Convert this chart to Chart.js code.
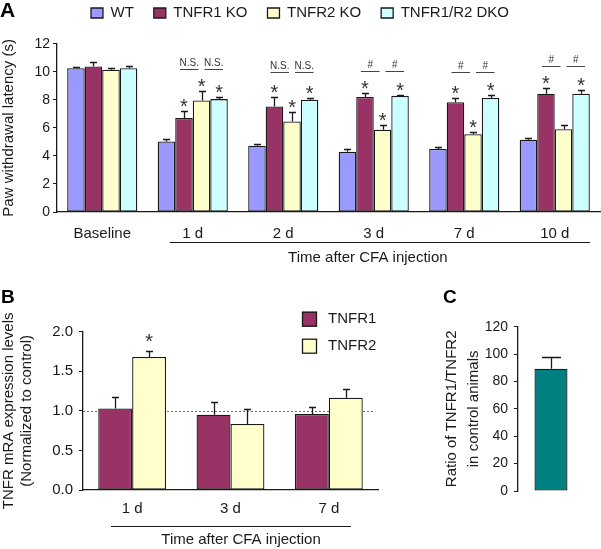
<!DOCTYPE html>
<html>
<head>
<meta charset="utf-8">
<script src="https://cdn.jsdelivr.net/npm/chart.js@4.4.0/dist/chart.umd.min.js"></script>
<style>
 body { margin: 0; background: #fff; }
 #wrap { position: relative; width: 601px; height: 549px; overflow: hidden; background: #fff; }
 canvas { position: absolute; }
</style>
</head>
<body>
<div id="wrap">
 <canvas id="chartA" width="601" height="270" style="left:0;top:0"></canvas>
 <canvas id="chartB" width="400" height="279" style="left:0;top:270px"></canvas>
 <canvas id="chartC" width="201" height="279" style="left:400px;top:270px"></canvas>
</div>
<script>
const FONT = '"Liberation Sans", Arial, sans-serif';
const INK = '#1a1a1a';

// panel A: paw withdrawal latency
const timesA = ['Baseline', '1 d', '2 d', '3 d', '7 d', '10 d'];
const namesA = ['WT', 'TNFR1 KO', 'TNFR2 KO', 'TNFR1/R2 DKO'];
const latWT  = [10.25, 5.03, 4.72, 4.30, 4.50, 5.15];
const latR1  = [10.38, 6.70, 7.53, 8.20, 7.82, 8.43];
const latR2  = [10.15, 7.95, 6.45, 5.86, 5.55, 5.90];
const latDKO = [10.25, 8.05, 8.00, 8.28, 8.13, 8.43];
const errWT  = [0.10, 0.15, 0.15, 0.18, 0.15, 0.12];
const errR1  = [0.35, 0.53, 0.65, 0.30, 0.30, 0.40];
const errR2  = [0.13, 0.70, 0.65, 0.35, 0.15, 0.30];
const errDKO = [0.18, 0.15, 0.12, 0.07, 0.18, 0.28];
const starWT  = [0, 0, 0, 0, 0, 0];
const starR1  = [0, 1, 1, 1, 1, 1];
const starR2  = [0, 1, 1, 1, 1, 0];
const starDKO = [0, 1, 1, 1, 1, 1];
const pairMarks = ['', 'N.S.', 'N.S.', '#', '#', '#'];
const ticksA = [0, 2, 4, 6, 8, 10, 12];

// panel B: mRNA levels
const timesB = ['1 d', '3 d', '7 d'];
const mrnaR1 = [1.03, 0.95, 0.96];
const mrnaR2 = [1.68, 0.835, 1.165];
const mrnaErrR1 = [0.14, 0.16, 0.09];
const mrnaErrR2 = [0.08, 0.19, 0.11];
const mrnaStarR1 = [0, 0, 0];
const mrnaStarR2 = [1, 0, 0];
const controlLevel = 1.0;

// panel C: ratio
const ratioLabels = [''];
const ratioValue = [89.3];
const ratioErr = [8.3];

const crisp = v => Math.round(v) + 0.5;

const errorBars = {
 id: 'errorBars',
 afterDatasetsDraw(chart, args, o) {
 const { ctx } = chart;
 const y = chart.scales.y;
 ctx.save();
 chart.data.datasets.forEach((ds, di) => {
 if (!ds.errors) return;
 chart.getDatasetMeta(di).data.forEach((bar, i) => {
 const top = y.getPixelForValue(ds.data[i] + ds.errors[i]);
 const x = crisp(bar.x);
 ctx.strokeStyle = INK;
 ctx.lineWidth = 1.3;
 ctx.beginPath();
 ctx.moveTo(x, bar.y);
 ctx.lineTo(x, crisp(top));
 ctx.moveTo(x - o.cap / 2, crisp(top));
 ctx.lineTo(x + o.cap / 2, crisp(top));
 ctx.stroke();
 if (ds.stars && ds.stars[i]) {
 ctx.fillStyle = '#333';
 ctx.font = `20px ${FONT}`;
 ctx.textAlign = 'center';
 ctx.textBaseline = 'alphabetic';
 ctx.fillText('*', bar.x, top + o.starShift);
 }
 });
 });
 ctx.restore();
 }
};

const pairBrackets = {
 id: 'pairBrackets',
 afterDatasetsDraw(chart) {
 const { ctx } = chart;
 const y = chart.scales.y;
 const metas = chart.data.datasets.map((ds, i) => chart.getDatasetMeta(i));
 ctx.save();
 pairMarks.forEach((txt, i) => {
 if (!txt) return;
 const bars = metas.map(m => m.data[i]);
 const tops = chart.data.datasets.map(ds => y.getPixelForValue(ds.data[i] + ds.errors[i]));
 const ly = crisp(Math.min(Math.min(...tops) - 22, y.getPixelForValue(10)));
 const segs = [[bars[1].x - 4, bars[2].x - 3], [bars[2].x + 3, bars[3].x + 4]];
 segs.forEach(([a, b]) => {
 ctx.strokeStyle = '#444';
 ctx.lineWidth = 1;
 ctx.beginPath();
 ctx.moveTo(a, ly);
 ctx.lineTo(b, ly);
 ctx.stroke();
 ctx.fillStyle = '#333';
 ctx.font = `10px ${FONT}`;
 ctx.textAlign = 'center';
 ctx.textBaseline = 'alphabetic';
 ctx.fillText(txt, (a + b) / 2, ly - 4);
 });
 });
 ctx.restore();
 }
};

const timeNote = {
 id: 'timeNote',
 afterDraw(chart, args, o) {
 const { ctx, chartArea } = chart;
 const x = chart.scales.x;
 const cw = x.width / x.ticks.length;
 const left = x.getPixelForValue(o.first) - o.padL * cw;
 const right = x.getPixelForValue(o.last) + o.padR * cw;
 const ly = crisp(chartArea.bottom + o.lineGap);
 ctx.save();
 ctx.strokeStyle = INK;
 ctx.lineWidth = 1;
 ctx.beginPath();
 ctx.moveTo(left, ly);
 ctx.lineTo(right, ly);
 ctx.stroke();
 ctx.fillStyle = INK;
 ctx.font = `15px ${FONT}`;
 ctx.textAlign = 'center';
 ctx.textBaseline = 'alphabetic';
 ctx.fillText('Time after CFA injection', (left + right) / 2 + o.dx, chartArea.bottom + o.textGap);
 ctx.restore();
 }
};

const panelLetter = {
 id: 'panelLetter',
 afterDraw(chart, args, o) {
 const { ctx } = chart;
 ctx.save();
 ctx.fillStyle = '#000';
 ctx.font = `bold ${o.size}px ${FONT}`;
 ctx.textAlign = 'left';
 ctx.textBaseline = 'alphabetic';
 ctx.fillText(o.text, o.x, o.y);
 ctx.restore();
 }
};

const controlLine = {
 id: 'controlLine',
 beforeDatasetsDraw(chart) {
 const { ctx, chartArea } = chart;
 const y = crisp(chart.scales.y.getPixelForValue(controlLevel));
 ctx.save();
 ctx.strokeStyle = '#666';
 ctx.lineWidth = 1;
 ctx.setLineDash([2, 2]);
 ctx.beginPath();
 ctx.moveTo(chartArea.left, y);
 ctx.lineTo(chartArea.right - 5, y);
 ctx.stroke();
 ctx.restore();
 }
};

const boxLegend = {
 id: 'boxLegend',
 afterDraw(chart, args, o) {
 const { ctx } = chart;
 ctx.save();
 chart.data.datasets.forEach((ds, i) => {
 const top = o.y + i * o.step;
 ctx.fillStyle = ds.backgroundColor;
 ctx.fillRect(o.x, top, o.box, o.box);
 ctx.strokeStyle = INK;
 ctx.lineWidth = 1.3;
 ctx.strokeRect(o.x + 0.5, top + 0.5, o.box - 1, o.box - 1);
 ctx.fillStyle = INK;
 ctx.font = `15px ${FONT}`;
 ctx.textAlign = 'left';
 ctx.textBaseline = 'middle';
 ctx.fillText(ds.label, o.x + o.box + 11, top + o.box / 2);
 });
 ctx.restore();
 }
};

function yAxis(opts) {
 return {
 min: 0,
 max: opts.max,
 afterFit: s => { s.width = opts.width; },
 afterBuildTicks: opts.values ? s => { s.ticks = opts.values.map(v => ({ value: v })); } : undefined,
 ticks: {
 stepSize: opts.step,
 padding: opts.pad,
 color: INK,
 font: { size: opts.tickSize },
 callback: opts.fmt || (v => v),
 },
 grid: { display: true, drawOnChartArea: false, drawTicks: true, tickLength: 4, color: INK, lineWidth: 1 },
 border: { display: true, color: INK, width: 1.3 },
 title: {
 display: true,
 text: opts.title,
 color: INK,
 font: { size: 15, lineHeight: opts.lineHeight || 1.2 },
 padding: { top: opts.titlePad, bottom: 0 },
 },
 };
}

function xAxis(height, pad) {
 return {
 afterFit: s => { s.height = height; },
 grid: { display: false },
 border: { display: true, color: INK, width: 1.3 },
 ticks: { padding: pad, color: INK, font: { size: 15 }, maxRotation: 0 },
 };
}

const bar = (label, data, color, errors, stars) => ({
 label, data, errors, stars,
 backgroundColor: color,
 borderColor: INK,
 borderWidth: 1.3,
 borderSkipped: false,
});

new Chart(document.getElementById('chartA'), {
 type: 'bar',
 data: {
 labels: timesA,
 datasets: [
 bar(namesA[0], latWT, '#9999ff', errWT, starWT),
 bar(namesA[1], latR1, '#993366', errR1, starR1),
 bar(namesA[2], latR2, '#ffffcc', errR2, starR2),
 bar(namesA[3], latDKO, '#ccffff', errDKO, starDKO),
 ],
 },
 options: {
 responsive: false,
 devicePixelRatio: 1,
 animation: false,
 categoryPercentage: 0.775,
 barPercentage: 1,
 layout: { padding: { top: -14.5, left: 0, right: 1, bottom: 0 } },
 plugins: {
 legend: {
 position: 'top',
 weight: 3000,
 labels: { boxWidth: 12, boxHeight: 10, padding: 20, color: INK, font: { size: 15 } },
 },
 title: { display: true, text: ' ', font: { size: 1 }, padding: { top: 0, bottom: 12 } },
 tooltip: { enabled: false },
 errorBars: { cap: 7, starShift: 2 },
 timeNote: { first: 1, last: 5, padL: 0.255, padR: 0.39, lineGap: 30, textGap: 50, dx: -12 },
 panelLetter: { text: 'A', x: 0, y: 17, size: 21 },
 },
 scales: {
 x: xAxis(58, 5),
 y: yAxis({ max: 12, values: ticksA, width: 57, pad: 3, tickSize: 14, title: 'Paw withdrawal latency (s)', titlePad: 0 }),
 },
 },
 plugins: [errorBars, pairBrackets, timeNote, panelLetter],
});

new Chart(document.getElementById('chartB'), {
 type: 'bar',
 data: {
 labels: timesB,
 datasets: [
 bar('TNFR1', mrnaR1, '#993366', mrnaErrR1, mrnaStarR1),
 bar('TNFR2', mrnaR2, '#ffffcc', mrnaErrR2, mrnaStarR2),
 ],
 },
 options: {
 responsive: false,
 devicePixelRatio: 1,
 animation: false,
 categoryPercentage: 0.69,
 barPercentage: 1,
 layout: { padding: { top: 61.7, left: 0, right: 22, bottom: 0 } },
 plugins: {
 legend: { display: false },
 tooltip: { enabled: false },
 errorBars: { cap: 7, starShift: -2.5 },
 timeNote: { first: 0, last: 2, padL: 0.215, padR: 0.226, lineGap: 36, textGap: 54, dx: 10 },
 panelLetter: { text: 'B', x: 1, y: 33, size: 19 },
 boxLegend: { x: 302, y: 41.7, box: 15, step: 27 },
 },
 scales: {
 x: xAxis(59, 2),
 y: yAxis({ max: 2, step: 0.5, width: 83, pad: 6, tickSize: 15, fmt: v => v.toFixed(1),
 title: ['TNFR mRA expression levels', '(Normalized to control)'], titlePad: 0 }),
 },
 },
 plugins: [controlLine, errorBars, timeNote, panelLetter, boxLegend],
});

new Chart(document.getElementById('chartC'), {
 type: 'bar',
 data: {
 labels: ratioLabels,
 datasets: [bar('Ratio', ratioValue, '#008080', ratioErr, null)],
 },
 options: {
 responsive: false,
 devicePixelRatio: 1,
 animation: false,
 categoryPercentage: 0.5,
 barPercentage: 1,
 layout: { padding: { top: 56.7, left: 0, right: 17, bottom: 58 } },
 plugins: {
 legend: { display: false },
 tooltip: { enabled: false },
 errorBars: { cap: 19, starShift: 0 },
 panelLetter: { text: 'C', x: 43, y: 33, size: 19 },
 },
 scales: {
 x: { display: false },
 y: yAxis({ max: 120, step: 20, width: 118, pad: 6, tickSize: 14,
 title: ['Ratio of TNFR1/TNFR2', 'in control animals'], titlePad: 40.5, lineHeight: 1.5 }),
 },
 },
 plugins: [errorBars, panelLetter],
});
</script>
</body>
</html>
